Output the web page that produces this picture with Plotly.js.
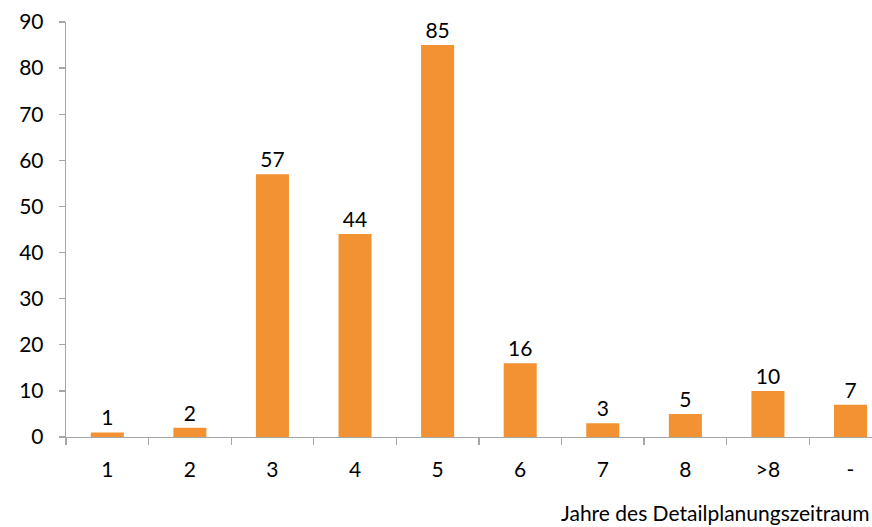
<!DOCTYPE html>
<html><head><meta charset="utf-8">
<script src="https://cdn.plot.ly/plotly-3.0.1.min.js"></script>
<style>html,body{margin:0;padding:0;overflow:hidden;background:#fff}</style>
</head><body><div id="chart" style="width:872px;height:527px"></div>
<script>
var categories = ["1","2","3","4","5","6","7","8",">8","-"];
var values = [1,2,57,44,85,16,3,5,10,7];
var xTitle = "Jahre des Detailplanungszeitraum";
var fontFamily = "Lato, 'Open Sans', sans-serif";
var fs = 21;

var trace = {
  type: "bar",
  x: categories,
  y: values,
  text: values.map(String),
  textposition: "outside",
  cliponaxis: false,
  textfont: {family: fontFamily, size: fs, color: "#000"},
  marker: {color: "#F39233"},
  width: 0.4,
  hoverinfo: "none"
};

var layout = {
  width: 872, height: 527,
  margin: {l: 66, r: 0, t: 22, b: 90, pad: 0},
  paper_bgcolor: "#fff", plot_bgcolor: "#fff",
  font: {family: fontFamily, size: fs, color: "#000"},
  showlegend: false,
  xaxis: {
    type: "category",
    range: [-0.5, 9.26],
    showline: true, linecolor: "#A6A6A6", linewidth: 1.3,
    ticks: "outside", tickson: "boundaries", ticklen: 7, tickcolor: "#A6A6A6", tickwidth: 1.3,
    showgrid: false, zeroline: false,
    ticklabelstandoff: 13,
    tickfont: {family: fontFamily, size: fs, color: "#000"}
  },
  yaxis: {
    range: [0, 90], dtick: 10,
    showline: true, linecolor: "#A6A6A6", linewidth: 1.3,
    ticks: "outside", ticklen: 6, tickcolor: "#A6A6A6", tickwidth: 1.3,
    showgrid: false, zeroline: false,
    ticklabelstandoff: 11,
    tickfont: {family: fontFamily, size: fs, color: "#000"}
  },
  annotations: [{
    text: xTitle, xref: "paper", yref: "paper",
    x: 1, y: -0.181, xanchor: "right", yanchor: "middle",
    showarrow: false,
    font: {family: fontFamily, size: fs, color: "#000"}
  }]
};

Plotly.newPlot("chart", [trace], layout, {staticPlot: true, displayModeBar: false});
</script></body></html>
